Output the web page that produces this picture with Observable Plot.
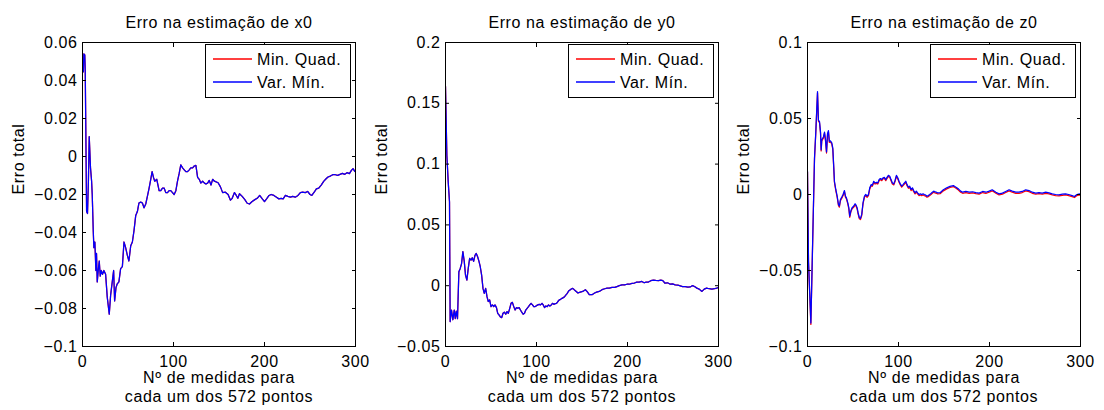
<!DOCTYPE html>
<html><head><meta charset="utf-8">
<script src="https://cdn.jsdelivr.net/npm/d3@7"></script>
<script src="https://cdn.jsdelivr.net/npm/@observablehq/plot@0.6"></script>
<style>
body{margin:0;background:#fff;}
#chart{position:relative;width:1104px;height:410px;font-family:"Liberation Sans",Arial,sans-serif;}
.panel{position:absolute;top:0;}
.legend{position:absolute;top:44px;}
</style></head><body><div id="chart"></div>
<script>
// ---- text ----
const titles = ["Erro na estimação de x0", "Erro na estimação de y0", "Erro na estimação de z0"];
const xLabel = "Nº de medidas para\ncada um dos 572 pontos";
const yLabel = "Erro total";
const seriesNames = ["Min. Quad.", "Var. Mín."];
const seriesColors = ["#ff0000", "#0000ff"];

// ---- ticks ----
const xTicks = [0, 100, 200, 300];
const yTicksX0 = [-0.1, -0.08, -0.06, -0.04, -0.02, 0, 0.02, 0.04, 0.06];
const yTicksY0 = [-0.05, 0, 0.05, 0.1, 0.15, 0.2];
const yTicksZ0 = [-0.1, -0.05, 0, 0.05, 0.1];

// ---- data: [nº de medidas, erro] ----
const x0VarMin = [
 [1,0.0446],[1.5,0.054],[2.5,0.0535],[3,0.046],[4.5,-0.029],[5.5,-0.030],[6.5,-0.013],[7.4,0.0105],[8.8,-0.006],[10,-0.013],
 [10.7,-0.020],[11.8,-0.039],[12.5,-0.048],[13.6,-0.045],[14.7,-0.060],[15.4,-0.051],[16.2,-0.066],[17.3,-0.060],[18.4,-0.055],[19.5,-0.063],
 [20.6,-0.060],[22,-0.062],[23.5,-0.060],[25.4,-0.062],[27.2,-0.074],[29.4,-0.083],[30.9,-0.073],[32.7,-0.066],[34.2,-0.060],[35.3,-0.076],
 [36.8,-0.069],[38.2,-0.067],[40,-0.066],[41.9,-0.059],[43.8,-0.058],[45.6,-0.045],[47.4,-0.048],[49.3,-0.052],[51,-0.055],[53,-0.047],
 [54.8,-0.045],[56.6,-0.039],[58.5,-0.031],[60.3,-0.029],[62,-0.0245],[64,-0.024],[65.8,-0.0245],[67.6,-0.027],[69.5,-0.025],[71.3,-0.021],
 [73.2,-0.0166],[75,-0.012],[76.5,-0.008],[78,-0.011],[79.4,-0.013],[81.6,-0.012],[84.2,-0.018],[86,-0.018],[87.9,-0.0166],[89.7,-0.0166],
 [91.5,-0.019],[93.4,-0.019],[95.2,-0.018],[97,-0.018],[98.9,-0.019],[100.7,-0.020],[102.6,-0.018],[104.4,-0.013],[106.3,-0.0088],[108,-0.0044],
 [110,-0.006],[111.8,-0.007],[113.6,-0.008],[115.4,-0.008],[117.3,-0.007],[119,-0.006],[121,-0.006],[122.8,-0.005],[124.6,-0.0047],[126.5,-0.011],
 [128.3,-0.012],[130,-0.014],[132,-0.013],[134,-0.014],[135.7,-0.0145],[137.5,-0.014],[139.3,-0.0126],[141.2,-0.015],[143,-0.012],[145,-0.013],
 [149,-0.0138],[151.6,-0.016],[154,-0.019],[157,-0.0188],[160,-0.020],[162.6,-0.023],[164.5,-0.022],[167,-0.019],[169,-0.0205],[170.7,-0.022],
 [172.5,-0.0196],[175.5,-0.021],[178.4,-0.0227],[181,-0.0246],[183.5,-0.025],[186.4,-0.0237],[189.4,-0.0227],[192,-0.022],[194.7,-0.0205],[197.6,-0.0223],
 [200,-0.0237],[202.3,-0.0223],[205,-0.0205],[207.3,-0.020],[210.3,-0.0205],[213.2,-0.0214],[215.8,-0.0223],[218.3,-0.022],[220.5,-0.0223],[223,-0.0205],
 [225.6,-0.021],[228.5,-0.0214],[231,-0.021],[233.8,-0.0214],[236.8,-0.0205],[239.4,-0.019],[241.9,-0.0188],[244.8,-0.019],[247.4,-0.0184],[250,-0.020],
 [252,-0.0205],[254.6,-0.0188],[257,-0.017],[259.6,-0.0166],[262.5,-0.0149],[265,-0.0131],[267.7,-0.0117],[269.8,-0.0108],[272.4,-0.0103],[275,-0.0096],
 [277.9,-0.0096],[280.4,-0.0099],[283,-0.0094],[285.6,-0.0089],[288.2,-0.0094],[290.7,-0.0085],[293.3,-0.0090],[295.5,-0.0073],[297.3,-0.0064],[299.2,-0.0078],
 [300,-0.0081]
];
const x0MinQuad = x0VarMin; // the red curve lies exactly under the blue one in the picture

const y0VarMin = [
 [0,0.164],[1.5,0.107],[3,0.085],[4.4,0.069],[5.1,-0.0295],[6.6,-0.020],[8.1,-0.028],[9.6,-0.020],[10.7,-0.027],[11.8,-0.021],
 [13.2,-0.027],[14.7,0.0115],[16.2,0.0142],[17.6,0.018],[19.1,0.028],[20.6,0.020],[22,0.0087],[23.5,0.0046],[25,0.0142],[26.5,0.0224],
 [28,0.021],[29.4,0.023],[30.9,0.020],[32.4,0.025],[33.8,0.0265],[35.3,0.0238],[36.8,0.020],[38.2,0.0156],[39.7,0.0087],[41.2,-0.0022],
 [42.6,-0.0063],[44.1,-0.0022],[45.6,-0.009],[47,-0.013],[48.5,-0.0117],[50,-0.0172],[51.5,-0.0158],[53,-0.0172],[54.4,-0.0158],[56,-0.018],
 [57.4,-0.0227],[58.8,-0.024],[60.3,-0.0257],[61.8,-0.0262],[63.2,-0.0227],[64.7,-0.0218],[66.2,-0.0235],[67.6,-0.0213],[69,-0.0227],[70.6,-0.0186],
 [72,-0.0145],[73.5,-0.0137],[75,-0.0172],[76.5,-0.020],[78,-0.018],[79.4,-0.0186],[80.9,-0.018],[82.4,-0.020],[83.8,-0.0218],[85.3,-0.0235],
 [86.8,-0.0227],[88.2,-0.020],[89.7,-0.0186],[91.2,-0.0172],[92.6,-0.0158],[94,-0.0145],[95.6,-0.0158],[97,-0.0172],[98.5,-0.0172],[100,-0.0164],
 [101.5,-0.0158],[103,-0.0153],[104.4,-0.0158],[106,-0.0145],[107.4,-0.0158],[108.8,-0.018],[110.3,-0.0167],[111.8,-0.0172],[113.2,-0.0158],[114.7,-0.0167],
 [116.2,-0.0158],[117.6,-0.0145],[119,-0.0153],[120.6,-0.0148],[122,-0.0145],[123.5,-0.013],[125,-0.0117],[126.5,-0.0112],[128,-0.0104],[129.4,-0.0098],
 [130.9,-0.009],[132.4,-0.0076],[133.8,-0.0063],[135.3,-0.0044],[136.8,-0.0035],[138.2,-0.0027],[139.7,-0.0022],[141,-0.003],[142.7,-0.0041],[145.6,-0.006],
 [148,-0.0053],[150.8,-0.0047],[153.7,-0.0033],[155.5,-0.0047],[158,-0.0074],[161,-0.0074],[163.9,-0.006],[166,-0.0053],[169,-0.0047],[172,-0.0033],
 [175,-0.0025],[177.5,-0.002],[180,-0.002],[183,-0.0014],[186,-0.0014],[188.4,-0.0007],[191,0.0001],[193.9,0.0006],[196.8,0.0006],[199.4,0.0012],
 [202,0.0012],[204.9,0.0019],[207.6,0.0022],[210.2,0.003],[212.8,0.003],[215.7,0.0035],[218.3,0.0024],[220.4,0.003],[223,0.003],[225.6,0.0041],
 [228.5,0.0046],[231,0.0043],[234,0.0041],[236.6,0.0046],[238.8,0.0041],[241,0.0022],[244,0.0024],[247,0.0012],[249.5,0.0015],[252.4,0.0007],
 [255.4,0.0004],[258,-0.0001],[260.5,-0.0007],[263.4,-0.0007],[266.4,-0.0012],[269,-0.001],[271.5,0.0001],[273.6,-0.0007],[276.3,-0.002],[278.8,-0.0028],
 [281.8,-0.0047],[284.3,-0.0028],[286.9,-0.002],[289.8,-0.0025],[292.7,-0.0028],[295.6,-0.0025],[298,-0.002],[300,-0.0014]
];
const y0MinQuad = y0VarMin; // coincides with the blue curve in the picture

const z0Steps = [
 0,1.1,3.7,7.7,9.1,11,12,13.2,14.3,15,
 15.7,17.6,18.7,19.8,20.9,22,23,24,25.2,26.7,
 27.8,28.9,29.6,31.1,32.6,34,35,36.2,37.7,39.1,
 40.6,41.7,42.8,44.3,45.4,46.4,47.6,49,50.9,52.3,
 53.4,54.5,55.6,57,58.2,59.6,61,62.6,64,65.5,
 67,68.4,70,71.3,72.8,74.3,75.7,77.2,78.7,80,
 81.6,83,84.5,86,87.4,88.9,90.4,91.8,93.3,94.8,
 96.2,97.7,99.2,100.6,102,103.5,105,106.5,108,109.4,
 110.9,112.3,113.8,115.3,116.7,118.2,119.6,121,122.6,124,
 125.5,127,128.4,130,131.3,132.8,134.3,135.7,137.2,138.7,
 140.1,141.6,143,145.7,149.3,153,156.6,160.3,163.2,165.8,
 168.3,170.5,174,177.7,181.5,185,188.6,192.5,196,199.6,
 203,207,210.5,214.2,217.8,221.5,225,228.8,232.4,236,
 239.8,243.4,247,250.8,254.4,258,261.8,265.4,269,272.6,
 276.3,280,283.5,287,290.8,293.4,296,298.9,300
];
const z0VarMin = [
 0.0153,-0.044,-0.0846,0.024,0.041,0.0676,0.049,0.048,0.041,0.0294,
 0.036,0.038,0.041,0.036,0.028,0.040,0.042,0.035,0.0353,0.034,
 0.0305,0.0174,0.0087,0.0033,-0.0011,-0.0065,-0.0076,-0.0033,-0.0017,0,
 0.0026,-0.0011,-0.0022,-0.0055,-0.0087,-0.0142,-0.0109,-0.0087,-0.0076,-0.0061,
 -0.007,-0.0087,-0.012,-0.0153,-0.0157,-0.0131,-0.0055,-0.0011,0,-0.0011,
 0,0.0044,0.0065,0.0061,0.0087,0.0076,0.008,0.0076,0.0098,0.0105,
 0.0098,0.011,0.0113,0.0098,0.0113,0.0126,0.012,0.0098,0.0076,0.007,
 0.0092,0.0126,0.011,0.0087,0.007,0.0055,0.0065,0.0076,0.0087,0.0065,
 0.0048,0.0055,0.0033,0.0044,0.0026,0.0011,0.0022,0.0011,0,0.0004,
 0,0.0004,0,-0.0004,-0.0011,-0.0007,0,0.0007,0.0015,0.0022,
 0.0017,0.0015,0.0011,0.0012,0.0031,0.0044,0.0053,0.0059,0.0048,0.0037,
 0.0022,0.0015,0.002,0.0015,0.0018,0.0013,0.0009,0.002,0.0015,0.0022,
 0.0031,0.0015,0.0004,0.0009,0.002,0.0031,0.0022,0.0015,0.0015,0.002,
 0.0031,0.0026,0.0015,0.0009,0.0013,0.0009,0.0015,0.0011,0.0004,0,
 -0.0002,0.0002,0.0004,0,-0.0007,-0.0013,0,0.0004,0.0002
];
const z0MinQuad = [
 0.0148,-0.0446,-0.0855,0.0233,0.0403,0.0668,0.0483,0.0472,0.0404,0.0287,
 0.0353,0.0372,0.0403,0.0353,0.0273,0.0393,0.0412,0.0343,0.0346,0.0332,
 0.0297,0.0167,0.0080,0.0026,-0.0018,-0.0072,-0.0083,-0.0040,-0.0024,-0.0007,
 0.0019,-0.0018,-0.0029,-0.0062,-0.0094,-0.0150,-0.0116,-0.0094,-0.0083,-0.0068,
 -0.0077,-0.0094,-0.0127,-0.0160,-0.0165,-0.0138,-0.0062,-0.0018,-0.0007,-0.0018,
 -0.0007,0.0037,0.0058,0.0054,0.0080,0.0069,0.0073,0.0069,0.0091,0.0098,
 0.0091,0.0103,0.0106,0.0091,0.0106,0.0119,0.0113,0.0091,0.0069,0.0063,
 0.0085,0.0119,0.0103,0.0080,0.0063,0.0048,0.0058,0.0069,0.0080,0.0058,
 0.0041,0.0048,0.0026,0.0037,0.0019,0.0004,0.0015,0.0004,-0.0007,-0.0003,
 -0.0007,-0.0003,-0.0007,-0.0011,-0.0018,-0.0014,-0.0007,0,0.0008,0.0015,
 0.0010,0.0008,0.0004,0.0005,0.0024,0.0037,0.0046,0.0052,0.0041,0.0030,
 0.0015,0.0008,0.0013,0.0008,0.0011,0.0006,0.0002,0.0013,0.0008,0.0015,
 0.0024,0.0008,-0.0003,0.0002,0.0013,0.0024,0.0015,0.0008,0.0008,0.0013,
 0.0024,0.0019,0.0008,0.0002,0.0006,0.0002,0.0008,0.0004,-0.0003,-0.0007,
 -0.0009,-0.0005,-0.0003,-0.0007,-0.0014,-0.0020,-0.0007,-0.0003,-0.0005
];

// ---- build panels ----
const fmt = d => d === 0 ? "0" : String(d).replace("-", "\u2212");
const pairs = a => a.map(([n, v]) => ({n, v}));
const panels = [
  {title: titles[0], mq: pairs(x0MinQuad), vm: pairs(x0VarMin), yDomain: [-0.1, 0.06], yTicks: yTicksX0, left: 0},
  {title: titles[1], mq: pairs(y0MinQuad), vm: pairs(y0VarMin), yDomain: [-0.05, 0.2], yTicks: yTicksY0, left: 363},
  {title: titles[2], mq: z0Steps.map((n, i) => ({n, v: z0MinQuad[i]})), vm: z0Steps.map((n, i) => ({n, v: z0VarMin[i]})), yDomain: [-0.1, 0.1], yTicks: yTicksZ0, left: 725}
];

const chart = document.getElementById("chart");
const FONT = "'Liberation Sans', Arial, Helvetica, sans-serif";

for (const p of panels) {
  const svg = Plot.plot({
    width: 368, height: 410,
    marginLeft: 82, marginRight: 13, marginTop: 42, marginBottom: 64,
    style: {fontFamily: FONT, fontSize: "16px", letterSpacing: "0.6px", color: "black", background: "transparent", overflow: "visible"},
    x: {domain: [0, 300]},
    y: {domain: p.yDomain},
    marks: [
      Plot.line(p.mq, {x: "n", y: "v", stroke: seriesColors[0], strokeWidth: 1.25, clip: true}),
      Plot.line(p.vm, {x: "n", y: "v", stroke: seriesColors[1], strokeWidth: 1.25, clip: true}),
      Plot.frame({stroke: "black", strokeWidth: 1}),
      Plot.axisX(xTicks, {anchor: "bottom", tickSize: 0, tickPadding: 9, label: null, tickFormat: fmt}),
      Plot.axisX(xTicks, {anchor: "bottom", tickSize: -4, tickFormat: () => "", label: null}),
      Plot.axisX(xTicks, {anchor: "top", tickSize: -4, tickFormat: () => "", label: null}),
      Plot.axisY(p.yTicks, {anchor: "left", tickSize: 0, tickPadding: 5, label: null, tickFormat: fmt}),
      Plot.axisY(p.yTicks, {anchor: "left", tickSize: -4, tickFormat: () => "", label: null}),
      Plot.axisY(p.yTicks, {anchor: "right", tickSize: -4, tickFormat: () => "", label: null}),
      Plot.text([p.title], {text: d => d, frameAnchor: "top", lineAnchor: "bottom", dy: -15}),
      Plot.text([xLabel], {text: d => d, frameAnchor: "bottom", lineAnchor: "top", lineHeight: 1.19, dy: 23}),
      Plot.text([yLabel], {text: d => d, frameAnchor: "left", rotate: -90, dx: -64})
    ]
  });
  const wrap = document.createElement("div");
  wrap.className = "panel";
  wrap.style.left = p.left + "px";
  wrap.appendChild(svg);
  chart.appendChild(wrap);

  // legend box (upper right inside the axes)
  const ns = "http://www.w3.org/2000/svg";
  const lg = document.createElementNS(ns, "svg");
  lg.setAttribute("class", "legend");
  lg.setAttribute("width", 147);
  lg.setAttribute("height", 55);
  lg.style.left = (p.left + 205) + "px";
  const rect = document.createElementNS(ns, "rect");
  Object.entries({x: 0.5, y: 0.5, width: 145, height: 53, fill: "white", stroke: "black", "stroke-width": 1}).forEach(([k, v]) => rect.setAttribute(k, v));
  lg.appendChild(rect);
  seriesNames.forEach((name, i) => {
    const cy = i === 0 ? 15 : 38;
    const ln = document.createElementNS(ns, "line");
    ln.setAttribute("x1", 8); ln.setAttribute("x2", 47);
    ln.setAttribute("y1", cy); ln.setAttribute("y2", cy);
    ln.style.stroke = seriesColors[i];
    ln.style.strokeWidth = "1.3px";
    lg.appendChild(ln);
    const t = document.createElementNS(ns, "text");
    t.setAttribute("x", 52);
    t.setAttribute("y", cy + 6);
    t.setAttribute("font-family", FONT);
    t.setAttribute("font-size", "16px");
    t.setAttribute("letter-spacing", "0.6px");
    t.setAttribute("fill", "black");
    t.textContent = name;
    lg.appendChild(t);
  });
  chart.appendChild(lg);
}
</script>
</body></html>
